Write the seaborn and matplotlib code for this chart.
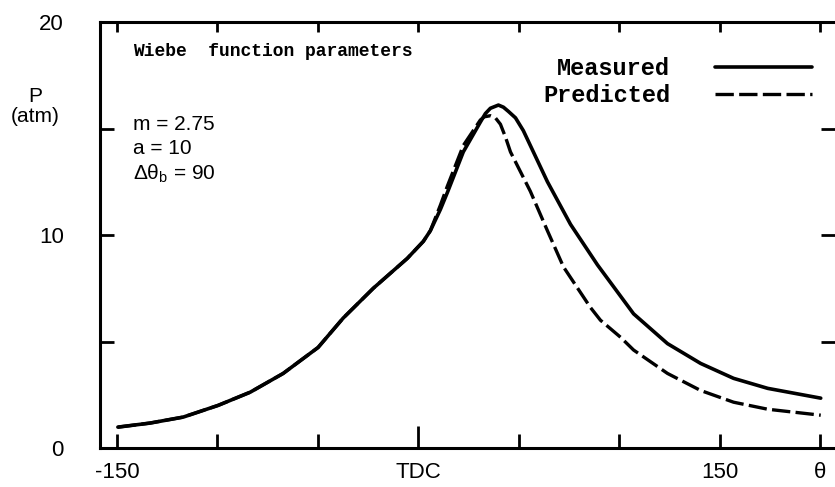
import matplotlib
matplotlib.use("Agg")
import matplotlib.pyplot as plt
import seaborn as sns
import pandas as pd

# Measured pressure (solid line), crank angle in degrees
meas_theta = [-149.6, -133.6, -117.1, -99.7, -83.7, -67.3, -49.9, -37.4, -22.4, -5.5, 2.5, 6.0,
              11.0, 14.5, 22.4, 30.9, 33.4, 35.9, 39.9, 42.4, 44.9, 48.4, 52.3, 64.3, 75.8,
              89.2, 107.2, 124.1, 140.6, 157.0, 174.0, 200.4]
meas_p     = [0.98, 1.17, 1.45, 2.0, 2.62, 3.5, 4.72, 6.1, 7.5, 8.9, 9.7, 10.2,
              11.2, 12.0, 13.9, 15.3, 15.7, 15.95, 16.1, 16.0, 15.8, 15.5, 14.9, 12.5, 10.5,
              8.6, 6.3, 4.9, 3.97, 3.27, 2.8, 2.34]
# Predicted pressure (dashed line)
pred_theta = [-149.6, -133.6, -117.1, -99.7, -83.7, -67.3, -49.9, -37.4, -22.4, -5.5, 2.5, 6.0,
              11.0, 14.5, 22.4, 30.9, 32.9, 35.9, 38.4, 40.9, 43.4, 45.9, 55.8, 64.3, 72.3,
              85.7, 90.7, 100.7, 107.2, 124.1, 140.6, 157.0, 174.0, 200.4]
pred_p     = [0.98, 1.17, 1.45, 2.0, 2.62, 3.5, 4.72, 6.1, 7.5, 8.9, 9.7, 10.2,
              11.4, 12.3, 14.2, 15.4, 15.55, 15.6, 15.5, 15.2, 14.6, 13.9, 12.05, 10.2, 8.5,
              6.6, 6.0, 5.2, 4.6, 3.5, 2.7, 2.15, 1.82, 1.54]

xticks = [-150, -100, -50, 0, 50, 100, 150, 200]
xticklabels = ["-150", "", "", "TDC", "", "", "150", "θ"]
yticks = [0, 5, 10, 15, 20]
yticklabels = ["0", "", "10", "", "20"]
series_labels = ["Measured", "Predicted"]

sns.set_style("ticks", {"axes.edgecolor": "black", "text.color": "black",
                        "xtick.color": "black", "ytick.color": "black"})
plt.rcParams['font.family'] = ['Liberation Sans', 'DejaVu Sans']
plt.rcParams['mathtext.fontset'] = 'custom'
plt.rcParams['mathtext.rm'] = 'Liberation Sans'
plt.rcParams['mathtext.it'] = 'Liberation Sans'
plt.rcParams['text.color'] = 'black'

W, H = 835, 487
fig = plt.figure(figsize=(W / 100, H / 100), dpi=100)
L, R, B, T = 100, 835, 448, 22
ax = fig.add_axes([L / W, (H - B) / H, (R - L) / W, (B - T) / H])

def fx(px):
    return px / W

def fy(py):
    return 1 - py / H

dm = pd.DataFrame({"theta": meas_theta, "P": meas_p})
dp = pd.DataFrame({"theta": pred_theta, "P": pred_p})
sns.lineplot(data=dm, x="theta", y="P", ax=ax, color="black", lw=2.6, sort=False,
             label=series_labels[0])
sns.lineplot(data=dp, x="theta", y="P", ax=ax, color="black", lw=2.4, sort=False,
             label=series_labels[1], linestyle=(0, (5.5, 1.6)))

ax.set_xlim(-158.5, 207.5)
ax.set_ylim(0, 20)
ax.set_xticks(xticks)
ax.set_xticklabels(xticklabels)
ax.set_yticks(yticks)
ax.set_yticklabels(yticklabels)
ax.tick_params(axis="x", direction="in", length=10, width=2, labelsize=16, top=True, pad=10,
               colors="black")
ax.tick_params(axis="y", direction="in", length=10, width=2, labelsize=16, right=True, pad=26,
               colors="black")
for t in ax.xaxis.get_major_ticks():
    t.tick2line.set_markersize(7)
ax.xaxis.get_major_ticks()[3].tick1line.set_markersize(16)
ax.set_xlabel("")
ax.set_ylabel("")
for s in ax.spines.values():
    s.set_linewidth(2.2)
    s.set_color("black")
    s.set_visible(True)
ax.spines["right"].set_visible(False)

leg = ax.legend(loc="upper right", bbox_to_anchor=(fx(812), fy(57)), bbox_transform=fig.transFigure,
                frameon=False, markerfirst=False, borderpad=0, borderaxespad=0,
                handlelength=4.1, handletextpad=1.9, labelspacing=0.18,
                prop={"family": ["Liberation Mono", "DejaVu Sans Mono"], "weight": "bold", "size": 17})
for txt in leg.get_texts():
    txt.set_color("black")

mono = {"family": ["Liberation Mono", "DejaVu Sans Mono"], "weight": "bold", "size": 13}
fig.text(fx(133), fy(51), "Wiebe  function parameters", va="center", ha="left", color="black", **mono)
par = {"size": 15, "color": "black"}
fig.text(fx(133), fy(125), "m = 2.75", va="center", ha="left", **par)
fig.text(fx(133), fy(148), "a = 10", va="center", ha="left", **par)
fig.text(fx(133), fy(174), r"$\Delta\theta_b$ = 90", va="center", ha="left", **par)

fig.text(fx(35), fy(96), "P", ha="center", va="center", fontsize=15, color="black")
fig.text(fx(35), fy(117), "(atm)", ha="center", va="center", fontsize=15, color="black")

fig.savefig("out.png", dpi=100)
